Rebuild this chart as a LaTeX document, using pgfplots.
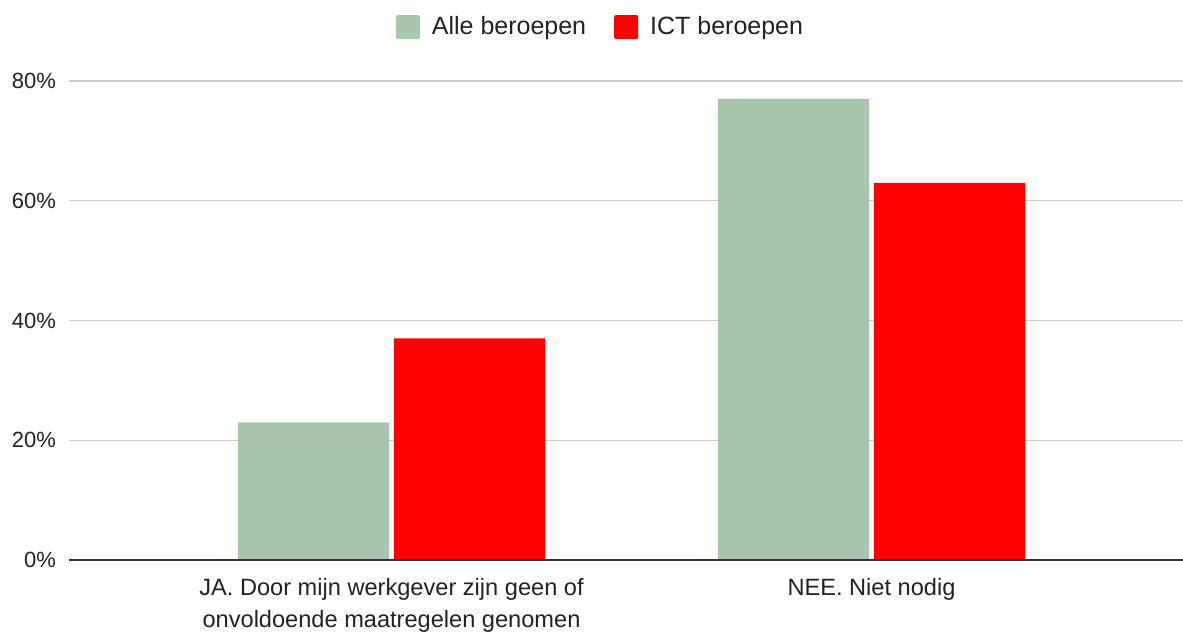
\documentclass[border=0pt]{standalone}
\usepackage{pgfplots}
\pgfplotsset{compat=1.18}
\usepackage{fontspec}
\setmainfont{Liberation Sans}
\definecolor{allec}{HTML}{A8C5AD}
\definecolor{ictc}{HTML}{FF0000}
\definecolor{txt}{HTML}{222222}
\definecolor{gridc}{HTML}{CCCCCC}
\definecolor{axc}{HTML}{333333}
\begin{document}
\begin{tikzpicture}[x=1pt,y=1pt]
\useasboundingbox (-34.5pt,-36.5pt) rectangle (557pt,280pt);
\begin{axis}[
  at={(0,0)}, anchor=south west,
  scale only axis,
  width=557pt, height=239.5pt,
  xmin=-0.672, xmax=1.649,
  ymin=0, ymax=80,
  axis line style={draw=none},
  ytick={0,20,40,60,80},
  yticklabels={0\%,20\%,40\%,60\%,80\%},
  xtick={0,1},
  xticklabels={{JA. Door mijn werkgever zijn geen of\\onvoldoende maatregelen genomen},{NEE. Niet nodig}},
  xticklabel style={align=center, font=\fontsize{11.8}{16}\selectfont, text=txt, yshift=-5.5pt},
  yticklabel style={font=\fontsize{11}{12}\selectfont, text=txt, xshift=-3pt},
  major tick length=0pt,
  ymajorgrids,
  grid style={gridc, line width=0.6pt},
  bar width=0.315,
  legend style={at={(0.478,1)}, anchor=center, yshift=27pt, draw=none, legend columns=2,
    font=\fontsize{12.5}{14}\selectfont, text=txt,
    /tikz/every odd column/.append style={column sep=4pt},
    /tikz/every even column/.append style={column sep=12pt}},
  legend image code/.code={\fill[#1, rounded corners=1pt] (0pt,-6pt) rectangle (12pt,6pt);},
  clip=false,
]
\addplot[ybar, fill=allec, draw=none, bar shift=-0.1625] coordinates {(0,23) (1,77)};
\addlegendentry{Alle beroepen}
\addplot[ybar, fill=ictc, draw=none, bar shift=0.1625] coordinates {(0,37) (1,63)};
\addlegendentry{ICT beroepen}
\draw[axc, line width=1pt] (axis cs:-0.672,0) -- (axis cs:1.649,0);
\end{axis}
\end{tikzpicture}
\end{document}
